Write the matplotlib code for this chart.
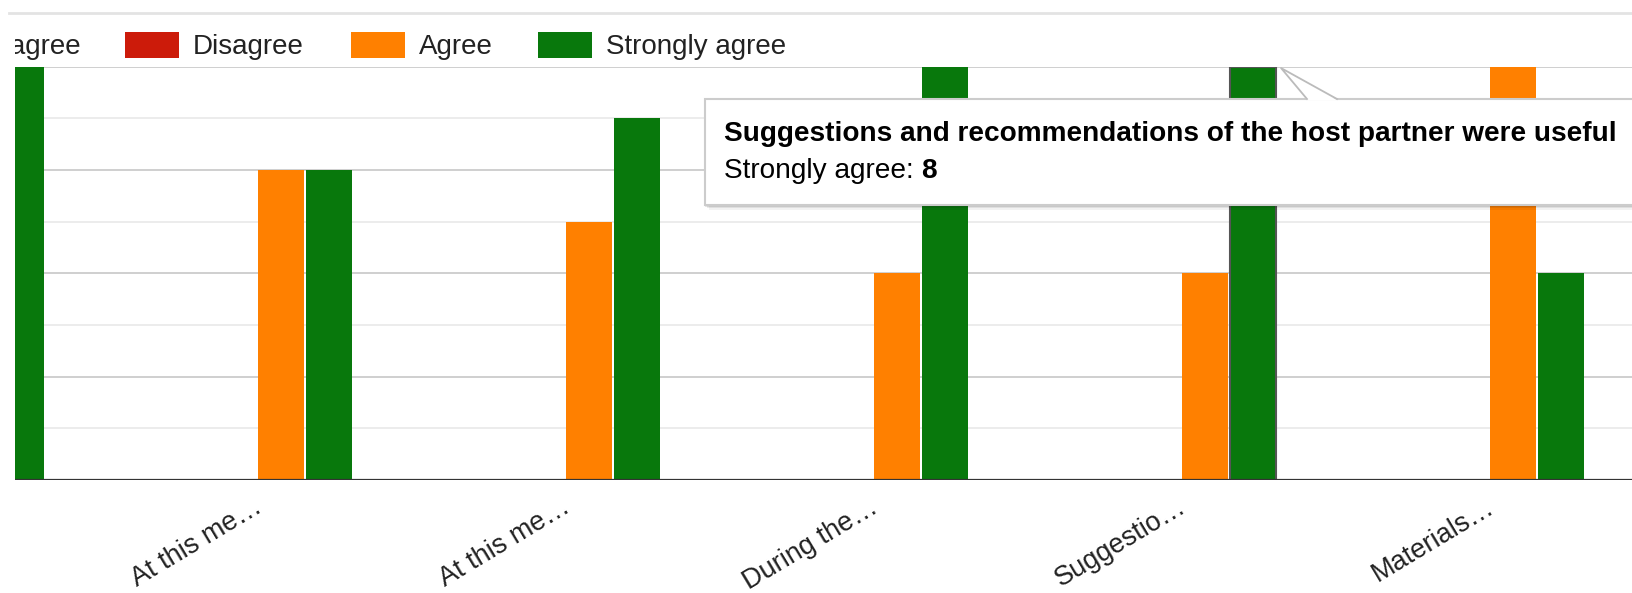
import matplotlib
matplotlib.use("Agg")
import matplotlib.pyplot as plt
from matplotlib.patches import Rectangle, Polygon
from matplotlib.lines import Line2D
from matplotlib.transforms import Bbox, TransformedBbox, ScaledTranslation
import numpy as np

plt.rcParams['font.family'] = ['Liberation Sans', 'DejaVu Sans']

# ---------------- data ----------------
categories = ["The meeting…", "At this me…", "At this me…", "During the…", "Suggestio…", "Materials…"]
series_names = ["Strongly disagree", "Disagree", "Agree", "Strongly agree"]
strongly_disagree = [0, 0, 0, 0, 0, 0]
disagree = [0, 0, 0, 0, 0, 0]
agree = [4, 6, 5, 4, 4, 8]
strongly_agree = [8, 6, 7, 8, 8, 4]
series_colors = ["#3366cc", "#cc1b0a", "#ff8000", "#08780c"]
tooltip_title = "Suggestions and recommendations of the host partner were useful"
tooltip_series = "Strongly agree"
tooltip_index = 4

W, H = 1633, 593
fig = plt.figure(figsize=(W / 100, H / 100), dpi=100)

def fx(x):
    return x / W

def fy(y):
    return 1 - y / H

ax_left, ax_top, ax_bottom = 15, 66.5, 480
ax = fig.add_axes([fx(ax_left), fy(ax_bottom), 1 - fx(ax_left), (ax_bottom - ax_top) / H])

values = [strongly_disagree, disagree, agree, strongly_agree]
x = np.arange(len(categories))
pitch = 0.157
width = 0.150
bars = []
for k, (vals, col) in enumerate(zip(values, series_colors)):
    b = ax.bar(x + (k - 1.5) * pitch, vals, width=width, color=col, linewidth=0, zorder=3)
    bars.append(b)

# highlighted bar
hb = bars[3][tooltip_index]
hb.set_edgecolor("#555555")
hb.set_linewidth(1.5)
hb.set_zorder(4)

ax.set_xticks(x)
ax.set_xticklabels(categories, rotation=31, ha='right', rotation_mode='anchor',
                   fontsize=19.5, color='#222222')
ax.tick_params(axis='x', length=0, pad=10)
for lbl in ax.get_xticklabels():
    lbl.set_transform(lbl.get_transform() + ScaledTranslation(-0.04, 0, fig.dpi_scale_trans))

ax.set_xlim(0.215, 5.468)
ax.set_ylim(0, 8)
ax.set_yticks([0, 2, 4, 6, 8])
ax.set_yticks([1, 3, 5, 7], minor=True)
ax.yaxis.grid(True, which='major', color='#cccccc', linewidth=1.3)
ax.yaxis.grid(True, which='minor', color='#ebebeb', linewidth=1.3)
ax.set_axisbelow(True)
ax.tick_params(axis='y', which='both', length=0, labelleft=False)
for s in ax.spines.values():
    s.set_visible(False)
ax.axhline(0, color='#333333', linewidth=1.6, zorder=5)

# top divider line
fig.add_artist(Line2D([fx(9), 1], [fy(13), fy(13)], color='#e3e3e3', linewidth=2))

# legend (manual, partially cropped on the left at the chart container edge)
clip = TransformedBbox(Bbox([[fx(15.5), 0], [1, 1]]), fig.transFigure)
leg_y = 45
box_w, box_h = 54, 26
box_lefts = [None, 125, 351, 538]
fig.canvas.draw()
renderer = fig.canvas.get_renderer()
for k, (name, col) in enumerate(zip(series_names, series_colors)):
    if box_lefts[k] is None:
        t = fig.text(fx(81), fy(leg_y + 2), name, ha='right', va='center', fontsize=20, color='#222222')
        t.set_clip_box(clip)
        t.set_clip_on(True)
        tw = t.get_window_extent(renderer).width
        bl = 81 - tw - 14 - box_w
    else:
        bl = box_lefts[k]
        fig.text(fx(bl + box_w + 14), fy(leg_y + 2), name, ha='left', va='center', fontsize=20, color='#222222')
    r = Rectangle((fx(bl), fy(leg_y + box_h / 2)), box_w / W, box_h / H,
                  transform=fig.transFigure, facecolor=col, edgecolor='none')
    fig.add_artist(r)
    r.set_clip_box(clip)
    r.set_clip_on(True)

# tooltip
tl, tt, tr, tb = 705, 99, 1660, 205
for off, a in [(5, 0.05), (3, 0.08), (1.5, 0.1)]:
    fig.add_artist(Rectangle((fx(tl + off - 1), fy(tb + off)), (tr - tl) / W, (tb - tt) / H,
                             transform=fig.transFigure, facecolor='#000000', alpha=a,
                             edgecolor='none', zorder=9))
box = Rectangle((fx(tl), fy(tb)), (tr - tl) / W, (tb - tt) / H,
                transform=fig.transFigure, facecolor='white', edgecolor='#cccccc',
                linewidth=1.5, zorder=10)
fig.add_artist(box)
apex = (1281, 68)
b1, b2 = (1307, 99), (1337, 99)
fig.add_artist(Polygon([(fx(apex[0]), fy(apex[1])), (fx(b1[0]), fy(b1[1] + 1)), (fx(b2[0]), fy(b2[1] + 1))],
                       closed=True, transform=fig.transFigure, facecolor='white',
                       edgecolor='none', zorder=11))
fig.add_artist(Line2D([fx(b1[0]), fx(apex[0]), fx(b2[0])], [fy(b1[1]), fy(apex[1]), fy(b2[1])],
                      color='#bbbbbb', linewidth=1.3, zorder=12))
fig.text(fx(724), fy(134), tooltip_title, ha='left', va='center', fontsize=20.2,
         fontweight='bold', color='#000000', zorder=13)
val = values[3][tooltip_index]
t1 = fig.text(fx(724), fy(171), tooltip_series + ": ", ha='left', va='center', fontsize=20.2,
              color='#000000', zorder=13)
fig.canvas.draw()
w1 = t1.get_window_extent(renderer).width
fig.text(fx(724 + w1), fy(171), str(val), ha='left', va='center', fontsize=20.2,
         fontweight='bold', color='#000000', zorder=13)

fig.savefig("out.png", dpi=100)
